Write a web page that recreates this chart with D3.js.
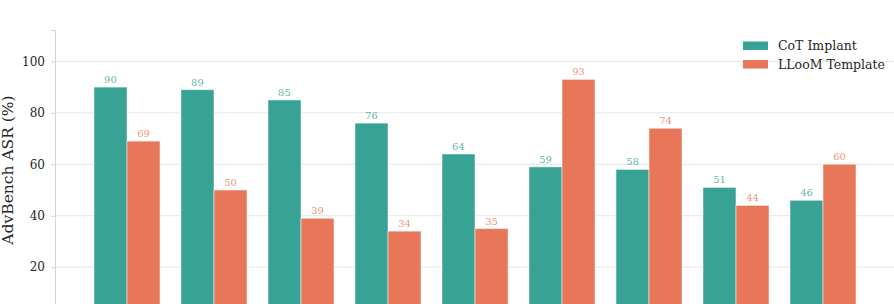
<!DOCTYPE html>
<html>
<head>
<meta charset="utf-8">
<script src="https://cdn.jsdelivr.net/npm/d3@7"></script>
<style>
  html, body { margin: 0; padding: 0; overflow: hidden; background: #fff; }
  svg { display: block; font-family: "DejaVu Serif", serif; }
</style>
</head>
<body>
<svg id="chart" width="894" height="304"></svg>
<script>
// data (x labels are cut off in the reference)
const categories = ["c1", "c2", "c3", "c4", "c5", "c6", "c7", "c8", "c9"];
const series = ["CoT Implant", "LLooM Template"];
const cotImplant = [90, 89, 85, 76, 64, 59, 58, 51, 46];
const lloomTemplate = [69, 50, 39, 34, 35, 93, 74, 44, 60];
const yTicks = [20, 40, 60, 80, 100];

const colors = { "CoT Implant": "#38a295", "LLooM Template": "#e8775a" };

const svg = d3.select("#chart");
const margin = { top: 30, left: 55, right: -1 };
const plotBottom = 318.6;
const plotRight = +svg.attr("width") - margin.right;

const rows = categories.map((c, i) => ({
  cat: c,
  values: [
    { key: series[0], value: cotImplant[i] },
    { key: series[1], value: lloomTemplate[i] },
  ],
}));

// scales
const x0 = d3.scaleBand()
  .domain(categories)
  .range([margin.left, plotRight])
  .paddingInner(0.241)
  .paddingOuter(0.448);

const x1 = d3.scaleBand()
  .domain(series)
  .range([0, x0.bandwidth()])
  .padding(0);

const y = d3.scaleLinear()
  .domain([0, 112.2])
  .range([plotBottom, margin.top]);

// grid
svg.append("g")
  .attr("class", "grid")
  .selectAll("line")
  .data(yTicks)
  .enter()
  .append("line")
  .attr("x1", margin.left)
  .attr("x2", plotRight)
  .attr("y1", (d) => y(d))
  .attr("y2", (d) => y(d))
  .attr("stroke", "#e6e6e6")
  .attr("stroke-width", 1);

// y axis
const yAxis = svg.append("g")
  .attr("transform", `translate(${margin.left},0)`)
  .call(d3.axisLeft(y).tickValues(yTicks).tickSize(4).tickPadding(6));
yAxis.select(".domain").attr("stroke", "#d4d4d4");
yAxis.selectAll(".tick line").attr("stroke", "#d4d4d4");
yAxis.selectAll(".tick text")
  .attr("fill", "#262626")
  .style("font-family", "DejaVu Serif")
  .style("font-size", "12px");

svg.append("text")
  .attr("transform", "translate(12.5,170) rotate(-90)")
  .attr("text-anchor", "middle")
  .attr("fill", "#262626")
  .style("font-size", "15.5px")
  .text("AdvBench ASR (%)");

// bars
const groups = svg.selectAll(".group")
  .data(rows)
  .enter()
  .append("g")
  .attr("class", "group")
  .attr("transform", (d) => `translate(${x0(d.cat)},0)`);

groups.selectAll("rect")
  .data((d) => d.values)
  .enter()
  .append("rect")
  .attr("x", (d) => x1(d.key))
  .attr("y", (d) => y(d.value))
  .attr("width", x1.bandwidth())
  .attr("height", (d) => plotBottom - y(d.value))
  .attr("fill", (d) => colors[d.key])
  .attr("stroke", "#ffffff")
  .attr("stroke-opacity", 0.5)
  .attr("stroke-width", 1);

// value labels
groups.selectAll("text")
  .data((d) => d.values)
  .enter()
  .append("text")
  .attr("x", (d) => x1(d.key) + x1.bandwidth() / 2)
  .attr("y", (d) => y(d.value) - 4)
  .attr("text-anchor", "middle")
  .attr("fill", (d) => colors[d.key])
  .attr("fill-opacity", 0.8)
  .style("font-size", "10px")
  .text((d) => d.value);

// legend
const legend = svg.append("g")
  .attr("transform", "translate(743,41.5)");

const items = legend.selectAll("g")
  .data(series)
  .enter()
  .append("g")
  .attr("transform", (d, i) => `translate(0,${i * 18.5})`);

items.append("rect")
  .attr("width", 25)
  .attr("height", 8.5)
  .attr("fill", (d) => colors[d]);

items.append("text")
  .attr("x", 35)
  .attr("y", 8.5)
  .attr("fill", "#262626")
  .style("font-size", "12.5px")
  .text((d) => d);
</script>
</body>
</html>
